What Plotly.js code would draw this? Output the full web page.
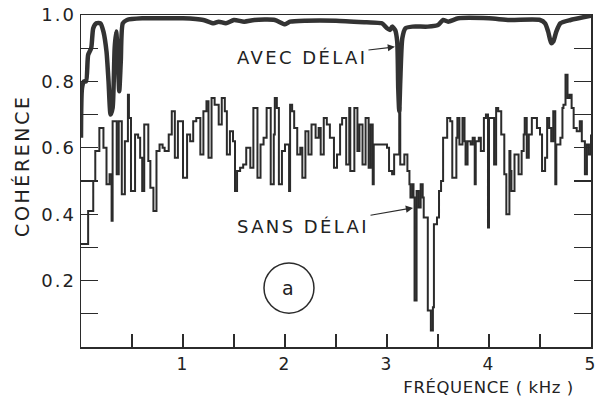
<!DOCTYPE html>
<html>
<head>
<meta charset="utf-8">
<script src="https://cdn.plot.ly/plotly-3.0.1.min.js"></script>
<style>
  html, body { margin: 0; padding: 0; background: #fff; }
  #chart { width: 598px; height: 399px; }
  .ytick text, .xtick text { letter-spacing: 2px; }
  .annotation-text { letter-spacing: 2.4px; }
  .annotation[data-index="2"] .annotation-text { letter-spacing: 0.6px; }
  .annotation[data-index="3"] .annotation-text { letter-spacing: 2.6px; }
</style>
</head>
<body>
<div id="chart"></div>
<script>
// Frequency (kHz) and coherence, "AVEC DÉLAI" (with delay)
const avecFreq = [0.00,0.01,0.03,0.05,0.07,0.10,0.12,0.15,0.19,0.22,0.25,0.27,0.29,0.31,0.33,0.345,0.36,0.375,0.39,0.41,0.45,0.6,0.8,1.0,1.2,1.3,1.35,1.42,1.5,1.6,1.7,1.9,2.0,2.05,2.2,2.5,2.8,2.95,3.0,3.03,3.05,3.08,3.10,3.11,3.12,3.13,3.15,3.18,3.25,3.4,3.5,3.55,3.6,3.7,4.0,4.2,4.5,4.55,4.58,4.61,4.63,4.66,4.70,4.8,5.0];
const avecCoh  = [0.63,0.78,0.80,0.80,0.88,0.90,0.96,0.975,0.975,0.95,0.89,0.80,0.70,0.72,0.90,0.95,0.88,0.77,0.86,0.975,0.985,0.99,0.99,0.99,0.985,0.975,0.98,0.975,0.985,0.98,0.985,0.985,0.972,0.98,0.983,0.983,0.978,0.975,0.96,0.955,0.965,0.955,0.92,0.78,0.71,0.80,0.93,0.96,0.965,0.965,0.97,0.985,0.98,0.99,0.99,0.985,0.985,0.975,0.95,0.915,0.92,0.95,0.975,0.985,0.998];

// "SANS DÉLAI" (without delay)
const sansFreq = [0.00,0.07,0.12,0.14,0.18,0.22,0.25,0.28,0.30,0.31,0.35,0.37,0.40,0.43,0.46,0.47,0.49,0.53,0.56,0.58,0.60,0.62,0.66,0.68,0.71,0.74,0.77,0.80,
  0.82,0.86,0.89,0.92,0.95,1.00,1.04,1.07,1.10,1.13,1.17,1.20,1.23,1.25,1.28,1.31,1.35,1.38,1.41,1.43,1.46,1.49,1.51,1.53,1.56,1.59,1.62,1.66,1.69,
  1.73,1.76,1.79,1.82,1.86,1.89,1.90,1.92,1.94,1.97,2.00,2.04,2.05,2.07,2.09,2.12,2.15,2.17,2.20,2.23,2.26,2.30,2.33,2.35,2.38,2.41,2.44,2.48,2.51,2.54,
  2.56,2.60,2.63,2.64,2.68,2.71,2.73,2.76,2.79,2.82,2.84,2.86,2.87,2.95,3.00,3.02,3.05,3.07,3.10,3.12,3.13,3.17,3.20,3.22,3.23,3.25,3.26,3.27,3.29,3.31,3.33,3.35,3.36,3.38,
  3.40,3.43,3.45,3.46,3.49,3.51,3.53,3.55,3.59,3.62,3.64,3.68,3.69,3.71,3.74,3.76,3.77,3.79,3.82,3.84,3.86,3.87,3.90,3.92,3.95,3.97,3.99,4.00,4.03,4.05,4.07,4.09,4.12,4.15,4.17,
  4.20,4.21,4.22,4.25,4.29,4.32,4.34,4.35,4.37,4.39,4.42,4.47,4.50,4.52,4.55,4.57,4.59,4.61,4.63,4.65,4.66,4.70,4.72,4.73,4.75,4.77,4.79,4.81,4.83,4.86,4.89,4.91,4.94,4.96,4.98,5.00];
const sansCoh  = [0.31,0.41,0.50,0.59,0.66,0.60,0.49,0.52,0.38,0.68,0.52,0.68,0.46,0.62,0.76,0.69,0.47,0.64,0.63,0.57,0.47,0.67,0.56,0.48,0.41,0.59,0.61,0.60,
  0.59,0.64,0.71,0.57,0.68,0.51,0.64,0.62,0.68,0.69,0.58,0.71,0.74,0.57,0.75,0.73,0.67,0.75,0.71,0.58,0.65,0.62,0.47,0.53,0.54,0.55,0.60,0.54,0.72,
  0.51,0.61,0.63,0.72,0.49,0.64,0.75,0.72,0.49,0.59,0.61,0.47,0.73,0.71,0.66,0.58,0.60,0.51,0.65,0.58,0.67,0.63,0.66,0.58,0.69,0.67,0.63,0.54,0.58,0.67,
  0.69,0.55,0.72,0.53,0.72,0.59,0.67,0.55,0.69,0.54,0.67,0.49,0.61,0.61,0.60,0.53,0.52,0.58,0.58,0.72,0.55,0.58,0.53,0.49,0.45,0.49,0.45,0.14,0.47,0.42,0.49,0.45,0.39,0.39,
  0.11,0.05,0.12,0.37,0.39,0.47,0.50,0.63,0.69,0.68,0.51,0.63,0.69,0.61,0.69,0.62,0.55,0.62,0.61,0.63,0.49,0.62,0.63,0.59,0.69,0.70,0.36,0.69,0.69,0.55,0.72,0.71,0.64,0.52,0.40,
  0.59,0.53,0.47,0.58,0.52,0.59,0.64,0.69,0.57,0.64,0.69,0.66,0.64,0.53,0.57,0.69,0.66,0.62,0.71,0.49,0.61,0.63,0.72,0.73,0.82,0.75,0.76,0.72,0.66,0.65,0.68,0.62,0.52,0.61,0.58,0.64];

const xTickVals = [0.5,1,1.5,2,2.5,3,3.5,4,4.5,5];
const xTickText = ['','1','','2','','3','','4','','5'];
const yTickVals = [0.1,0.2,0.3,0.4,0.5,0.6,0.7,0.8,0.9,1.0];
const yTickText = ['','0.2','','0.4','','0.6','','0.8','','1.0'];

const ink = '#2b2b2b';
const font = 'DejaVu Sans, sans-serif';

const traces = [
  { x: sansFreq, y: sansCoh, type: 'scatter', mode: 'lines', line: { color: ink, width: 2, shape: 'hv' }, hoverinfo: 'skip' },
  { x: avecFreq, y: avecCoh, type: 'scatter', mode: 'lines', line: { color: '#333', width: 4.5, shape: 'spline', smoothing: 0.6 }, hoverinfo: 'skip' }
];

const layout = {
  width: 598, height: 399,
  margin: { l: 81, r: 7, t: 15, b: 52 },
  paper_bgcolor: '#ffffff', plot_bgcolor: '#ffffff',
  showlegend: false,
  font: { family: font, size: 18, color: '#222' },
  xaxis: {
    range: [0, 5], showgrid: false, zeroline: false,
    showline: true, linecolor: ink, linewidth: 1.5, mirror: true,
    tickmode: 'array', tickvals: xTickVals, ticktext: xTickText,
    ticks: 'inside', ticklen: 13, tickwidth: 1.3, tickcolor: ink,
    ticklabelstandoff: 1,
    tickfont: { family: font, size: 17, color: '#222' }
  },
  yaxis: {
    range: [0, 1], showgrid: false, zeroline: false,
    showline: true, linecolor: ink, linewidth: 1.5, mirror: 'ticks',
    tickmode: 'array', tickvals: yTickVals, ticktext: yTickText,
    ticks: 'inside', ticklen: 17, tickwidth: 1.3, tickcolor: ink,
    tickfont: { family: font, size: 18, color: '#222' }
  },
  annotations: [
    { x: 3.078, y: 0.904, xref: 'x', yref: 'y', text: 'AVEC DÉLAI', showarrow: true,
      ax: -93, ay: 11, arrowhead: 2, arrowsize: 1.2, arrowwidth: 1.2, arrowcolor: ink,
      font: { family: font, size: 18, color: '#222' } },
    { x: 3.255, y: 0.419, xref: 'x', yref: 'y', text: 'SANS DÉLAI', showarrow: true,
      ax: -110, ay: 19, arrowhead: 2, arrowsize: 1.2, arrowwidth: 1.2, arrowcolor: ink,
      font: { family: font, size: 18, color: '#222' } },
    { x: 1, y: -0.1205, xref: 'paper', yref: 'paper', xanchor: 'right', yanchor: 'middle',
      text: 'FRÉQUENCE ( kHz )', showarrow: false, font: { family: font, size: 16.5, color: '#222' } },
    { x: -0.1157, y: 0.548, xref: 'paper', yref: 'paper', xanchor: 'center', yanchor: 'middle',
      text: 'COHÉRENCE', textangle: -90, showarrow: false, font: { family: font, size: 19, color: '#222' } },
    { x: 2.039, y: 0.178, xref: 'x', yref: 'y', text: 'a', showarrow: false,
      font: { family: font, size: 19, color: '#222' } }
  ],
  shapes: [
    { type: 'circle', xref: 'x', yref: 'y', x0: 1.794, x1: 2.284, y0: 0.102, y1: 0.253,
      line: { color: ink, width: 1.5 } }
  ]
};

Plotly.newPlot('chart', traces, layout, { staticPlot: true, displayModeBar: false });
</script>
</body>
</html>
